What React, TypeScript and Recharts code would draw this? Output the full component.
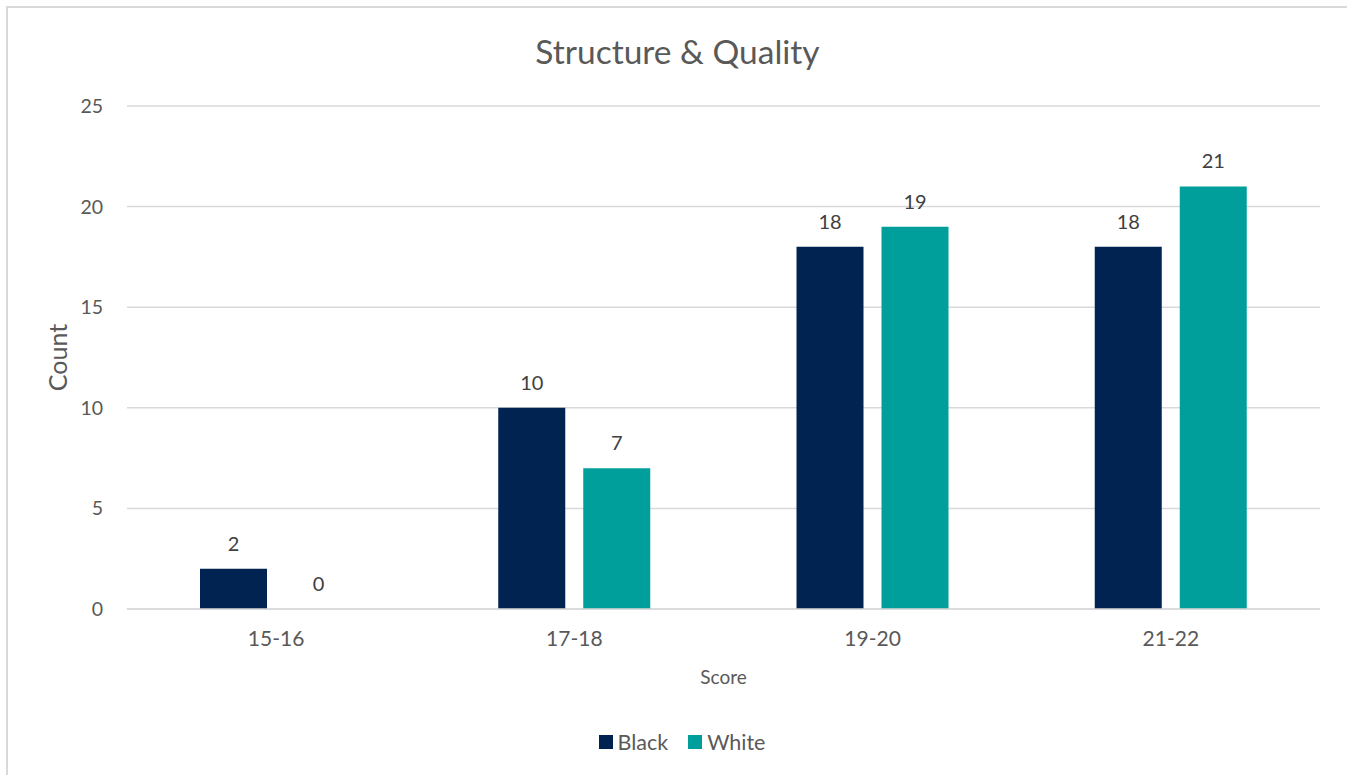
import React from 'react';
import { BarChart, Bar, XAxis, YAxis, CartesianGrid, Legend, LabelList, Cell } from 'recharts';

const categories = ['15-16', '17-18', '19-20', '21-22'];
const blackValues = [2, 10, 18, 18];
const whiteValues = [0, 7, 19, 21];
const yTicks = [0, 5, 10, 15, 20, 25];
const seriesNames = ['Black', 'White'];
const seriesColors = ['#002351', '#009F9B'];

const FONT = 'Lato, "Open Sans", sans-serif';
const TEXT = '#595959';
const GRID = '#D9D9D9';

const data = categories.map((c, i) => ({ score: c, Black: blackValues[i], White: whiteValues[i] }));

const YLabel = (props: any) => {
  const vb = props.viewBox || {};
  const cx = vb.x + 57;
  const cy = vb.y + vb.height / 2;
  return (
    <text x={cx} y={cy} transform={`rotate(-90, ${cx}, ${cy})`} textAnchor="middle" dominantBaseline="central"
      fill={TEXT} fontFamily={FONT} fontSize={25}>Count</text>
  );
};

const XLabel = (props: any) => {
  const vb = props.viewBox || {};
  return (
    <text x={vb.x + vb.width / 2} y={vb.y + 67} textAnchor="middle" dominantBaseline="central"
      fill={TEXT} fontFamily={FONT} fontSize={19}>Score</text>
  );
};

const ValueLabel = (props: any) => {
  const { x, y, width, height, value } = props;
  if (value === undefined || value === null) return null;
  const top = Math.min(Number(y), Number(y) + Number(height || 0));
  return (
    <text x={Number(x) + Number(width) / 2} y={top - 18} textAnchor="middle" fill="#404040" fontFamily={FONT} fontSize={20}>
      {value}
    </text>
  );
};

const LegendContent = () => (
  <div style={{ height: 30, display: 'flex', justifyContent: 'center', alignItems: 'center', fontFamily: FONT, fontSize: 21.5, color: TEXT, paddingLeft: 44 }}>
    {seriesNames.map((n, i) => (
      <div key={n} style={{ display: 'flex', alignItems: 'center', marginLeft: i ? 20 : 0 }}>
        <div style={{ width: 14, height: 14, background: seriesColors[i], marginRight: 5 }} />
        <span>{n}</span>
      </div>
    ))}
  </div>
);

const zeroMin = (value: any) => (Number(value) === 0 ? 0.01 : 0);

export default function App() {
  return (
    <div style={{ position: 'absolute', left: 0, top: 0, width: 1347, height: 775, background: '#fff', overflow: 'hidden' }}>
      <div style={{ position: 'absolute', left: 6, top: 6, width: 1400, height: 800, borderLeft: `2px solid ${GRID}`, borderTop: `2px solid ${GRID}` }} />
      <div style={{ position: 'absolute', left: 0, width: 1355, top: 31, textAlign: 'center', fontFamily: FONT, fontSize: 33.5, color: TEXT, lineHeight: '40px' }}>
        Structure &amp; Quality
      </div>
      <div style={{ position: 'absolute', left: 0, top: 0 }}>
        <BarChart width={1347} height={775} data={data} margin={{ top: 106, right: 27, left: 0, bottom: 18 }}
          barSize={67} barGap={18}>
          <CartesianGrid vertical={false} stroke={GRID} strokeWidth={1.5} />
          <XAxis dataKey="score" height={118} tickSize={0} tickMargin={22} axisLine={{ stroke: GRID, strokeWidth: 1.5 }}
            tick={{ fill: TEXT, fontFamily: FONT, fontSize: 21 }} label={<XLabel />} />
          <YAxis width={127} domain={[0, 25]} ticks={yTicks} tickSize={0} tickMargin={24} axisLine={false}
            tick={{ fill: TEXT, fontFamily: FONT, fontSize: 19.5 }} label={<YLabel />} />
          <Legend verticalAlign="bottom" height={30} content={<LegendContent />} />
          {seriesNames.map((n, i) => (
            <Bar key={n} dataKey={n} fill={seriesColors[i]} isAnimationActive={false} minPointSize={zeroMin}>
              {data.map((d: any, j) => (
                <Cell key={j} fill={Number(d[n]) === 0 ? 'transparent' : seriesColors[i]} />
              ))}
              <LabelList dataKey={n} content={<ValueLabel />} />
            </Bar>
          ))}
        </BarChart>
      </div>
    </div>
  );
}
